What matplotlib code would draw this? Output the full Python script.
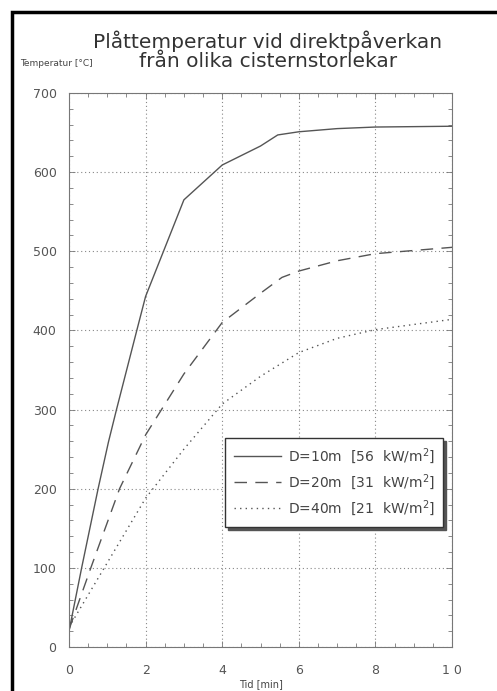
import matplotlib
matplotlib.use("Agg")
import matplotlib.pyplot as plt
from matplotlib.patches import Rectangle
from matplotlib.ticker import MultipleLocator

# Data
t_10 = [0, 0.33, 0.76, 1.03, 1.24, 1.77, 2, 3, 4, 5, 5.45, 6, 7, 8, 10]
T_10 = [20, 100, 200, 259, 300, 400, 443, 565, 609, 633, 647, 651, 655, 657, 658]

t_20 = [0, 0.57, 1.32, 2, 3, 4, 5, 5.56, 6, 7, 8, 10]
T_20 = [22, 100, 200, 268, 345, 410, 447, 467, 475, 488, 497, 505]

t_40 = [0, 0.92, 2, 3, 4, 5, 6, 7, 8, 10]
T_40 = [25, 100, 188, 250, 307, 342, 372, 390, 401, 414]

labels = ["D=10m  [56  kW/m$^2$]", "D=20m  [31  kW/m$^2$]", "D=40m  [21  kW/m$^2$]"]
xtick_vals = [0, 2, 4, 6, 8, 10]
xtick_labels = ["0", "2", "4", "6", "8", "1 0"]
ytick_vals = [0, 100, 200, 300, 400, 500, 600, 700]

title = "Plåttemperatur vid direktpåverkan\nfrån olika cisternstorlekar"

W, H = 497, 691
fig = plt.figure(figsize=(W / 100, H / 100), dpi=100)
fig.patch.set_facecolor("white")

ax = fig.add_axes([69 / W, 44 / H, 383 / W, 554 / H])

lc = "#555555"
ax.plot(t_10, T_10, color=lc, lw=1.0, ls="-", label=labels[0])
ax.plot(t_20, T_20, color=lc, lw=1.0, ls=(0, (9, 6)), label=labels[1])
ax.plot(t_40, T_40, color=lc, lw=1.0, ls=(0, (1, 3)), label=labels[2])

ax.set_xlim(0, 10)
ax.set_ylim(0, 700)
ax.set_xticks(xtick_vals)
ax.set_xticklabels(xtick_labels)
ax.set_yticks(ytick_vals)
ax.xaxis.set_minor_locator(MultipleLocator(0.5))
ax.yaxis.set_minor_locator(MultipleLocator(20))
ax.tick_params(which="both", direction="in", top=True, right=True,
               color="#777777", labelcolor="#555555", labelsize=9)
ax.tick_params(which="major", length=4, width=0.6)
ax.tick_params(which="minor", length=3, width=0.6)
ax.tick_params(axis="x", pad=12)
ax.tick_params(axis="y", pad=9)
ax.grid(True, which="major", color="#888888", ls=(0, (1, 2.5)), lw=0.8)
for s in ax.spines.values():
    s.set_color("#777777")
    s.set_linewidth(0.8)

ax.set_xlabel("Tid [min]", fontsize=7, color="#444444", labelpad=2)

fig.text(268 / W, 1 - 51 / H, title, ha="center", va="center",
         fontsize=14.5, color="#333333", linespacing=1.0)
fig.text(20 / W, 1 - 63 / H, "Temperatur [°C]", ha="left", va="center",
         fontsize=6.5, color="#444444")

leg = ax.legend(loc="lower right", bbox_to_anchor=(0.977, 0.217), borderaxespad=0,
                fontsize=10, frameon=True, fancybox=False,
                shadow={"color": "#555555", "alpha": 1}, handlelength=3.4,
                labelspacing=0.45, borderpad=0.6, handletextpad=0.5)
leg.get_frame().set_edgecolor("#333333")
leg.get_frame().set_linewidth(1.0)
for txt in leg.get_texts():
    txt.set_color("#444444")

# outer black frame (cut off at right and bottom)
fig.patches.append(Rectangle((12 / W, -0.05), 1.2, 1 - 12 / H + 0.05,
                             transform=fig.transFigure, fill=False,
                             edgecolor="black", linewidth=2.5))

fig.savefig("out.png", dpi=100)
